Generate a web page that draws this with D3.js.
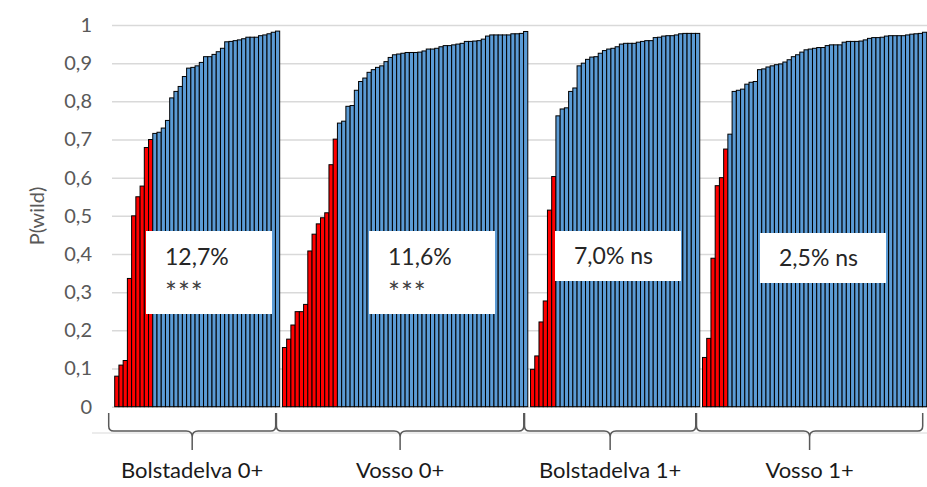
<!DOCTYPE html>
<html>
<head>
<meta charset="utf-8">
<script src="https://cdn.jsdelivr.net/npm/d3@7"></script>
<style>
  html, body { margin: 0; padding: 0; background: #fff; }
  svg { display: block; font-family: Lato, "Open Sans", sans-serif; }
</style>
</head>
<body>
<svg id="chart" width="927" height="487"></svg>
<script>
// Population groups along the category axis
const groupNames = ["Bolstadelva 0+", "Vosso 0+", "Bolstadelva 1+", "Vosso 1+"];

// Sorted P(wild) per individual; red = below-threshold fish, blue = the rest
const redBolstadelva0 = [0.080, 0.109, 0.121, 0.336, 0.500, 0.550, 0.578, 0.679, 0.700];
const blueBolstadelva0 = [0.716, 0.719, 0.730, 0.750, 0.809, 0.826, 0.839, 0.865, 0.887, 0.889,
  0.893, 0.902, 0.917, 0.917, 0.923, 0.930, 0.939, 0.956, 0.957, 0.959, 0.961, 0.964, 0.968,
  0.968, 0.968, 0.972, 0.974, 0.977, 0.981, 0.984];

const redVosso0 = [0.155, 0.177, 0.214, 0.249, 0.249, 0.268, 0.408, 0.452, 0.479, 0.495, 0.508,
  0.634, 0.701];
const blueVosso0 = [0.743, 0.748, 0.787, 0.789, 0.829, 0.852, 0.861, 0.876, 0.883, 0.889, 0.893,
  0.904, 0.915, 0.922, 0.924, 0.926, 0.928, 0.928, 0.928, 0.929, 0.932, 0.937, 0.937, 0.939,
  0.943, 0.946, 0.946, 0.948, 0.950, 0.952, 0.957, 0.957, 0.958, 0.959, 0.963, 0.971, 0.974,
  0.974, 0.974, 0.974, 0.974, 0.977, 0.977, 0.978, 0.983];

const redBolstadelva1 = [0.098, 0.133, 0.222, 0.277, 0.515, 0.603];
const blueBolstadelva1 = [0.762, 0.780, 0.783, 0.826, 0.835, 0.893, 0.900, 0.910, 0.916, 0.917,
  0.926, 0.933, 0.937, 0.939, 0.943, 0.950, 0.952, 0.952, 0.952, 0.955, 0.957, 0.959, 0.959,
  0.967, 0.968, 0.971, 0.972, 0.972, 0.974, 0.977, 0.978, 0.978, 0.978, 0.978];

const redVosso1 = [0.129, 0.179, 0.389, 0.579, 0.600, 0.675];
const blueVosso1 = [0.714, 0.826, 0.829, 0.832, 0.845, 0.850, 0.852, 0.883, 0.885, 0.890, 0.893,
  0.896, 0.898, 0.903, 0.909, 0.917, 0.922, 0.929, 0.935, 0.937, 0.939, 0.941, 0.941, 0.946,
  0.948, 0.948, 0.948, 0.955, 0.957, 0.957, 0.957, 0.958, 0.961, 0.965, 0.967, 0.967, 0.968,
  0.971, 0.972, 0.972, 0.972, 0.972, 0.974, 0.976, 0.977, 0.978, 0.981];

// Annotation text inside each group
const percentLabels = ["12,7%", "11,6%", "7,0% ns", "2,5% ns"];
const signifLabels = ["***", "***", "", ""];

// Y-axis ticks
const yTicks = [0, 0.1, 0.2, 0.3, 0.4, 0.5, 0.6, 0.7, 0.8, 0.9, 1];
const yTitle = "P(wild)";

// ---- layout ----
const W = 927, H = 487;
const plotLeft = 112, plotRight = 927;
const barsLeft = 114.7, barsRight = 926.7;
const yTop = 25, yBottom = 406.7;
const groupGap = 0.65;                // gap between groups, in bar widths
const boxLeft = [146, 369, 555, 760]; // annotation box left edges
const boxWidth = 126;

const redSets = [redBolstadelva0, redVosso0, redBolstadelva1, redVosso1];
const blueSets = [blueBolstadelva0, blueVosso0, blueBolstadelva1, blueVosso1];

// Flatten into one list of bars with a running slot index
const bars = [];
const groupSpans = [];
let slot = 0;
groupNames.forEach((name, g) => {
  const start = slot;
  redSets[g].forEach(v => { bars.push({ g, slot, v, kind: "red" }); slot += 1; });
  blueSets[g].forEach(v => { bars.push({ g, slot, v, kind: "blue" }); slot += 1; });
  groupSpans.push({ name, start, end: slot });
  if (g < groupNames.length - 1) slot += groupGap;
});

const x = d3.scaleLinear().domain([0, slot]).range([barsLeft, barsRight]);
const y = d3.scaleLinear().domain([0, 1]).range([yBottom, yTop]);
const fmt = v => (v === 0 || v === 1) ? String(v) : d3.format(".1f")(v).replace(".", ",");

const svg = d3.select("#chart");

// Gridlines + tick labels
const yAxis = d3.axisLeft(y)
  .tickValues(yTicks)
  .tickFormat(fmt)
  .tickSizeInner(-(plotRight - plotLeft))
  .tickSizeOuter(0)
  .tickPadding(20);

const gy = svg.append("g")
  .attr("transform", `translate(${plotLeft},0)`)
  .call(yAxis);
gy.select(".domain").remove();
gy.selectAll(".tick line").attr("stroke", "#D9D9D9").attr("stroke-width", 1.5);
gy.selectAll(".tick text")
  .attr("fill", "#595959")
  .style("font-size", "20px")
  .style("font-family", "Lato, sans-serif");

// Y title
svg.append("text")
  .attr("transform", `translate(44,216) rotate(-90)`)
  .attr("text-anchor", "middle")
  .attr("fill", "#595959")
  .style("font-size", "20px")
  .text(yTitle);

// Bars
const bw = x(1) - x(0);
svg.append("g")
  .selectAll("rect")
  .data(bars)
  .join("rect")
  .attr("x", d => x(d.slot))
  .attr("y", d => y(d.v))
  .attr("width", bw)
  .attr("height", d => y(0) - y(d.v))
  .attr("fill", d => d.kind === "red" ? "#FF0000" : "#5B9BD5")
  .attr("stroke", "#000")
  .attr("stroke-width", 1);

// Horizontal rule under the bars
svg.append("line")
  .attr("x1", 92).attr("x2", W)
  .attr("y1", 433).attr("y2", 433)
  .attr("stroke", "#D9D9D9").attr("stroke-width", 1.2);

// Curly braces under each group
function bracePath(x0, x1, xc, yt, yh, yb) {
  const r = 5, c = 6;
  return `M${x0},${yt} L${x0},${yh - r} Q${x0},${yh} ${x0 + r},${yh} ` +
    `L${xc - c},${yh} Q${xc},${yh} ${xc},${yh + c} L${xc},${yb} ` +
    `M${xc},${yh + c} Q${xc},${yh} ${xc + c},${yh} ` +
    `L${x1 - r},${yh} Q${x1},${yh} ${x1},${yh - r} L${x1},${yt}`;
}
svg.append("g")
  .selectAll("path")
  .data(groupSpans)
  .join("path")
  .attr("d", d => {
    const x0 = x(d.start) - 6, x1 = x(d.end) - 4;
    const xc = (x0 + x1) / 2;
    return bracePath(x0, x1, xc, 413, 431, 450);
  })
  .attr("fill", "none")
  .attr("stroke", "#595959")
  .attr("stroke-width", 1.5);

// Category labels
svg.append("g")
  .selectAll("text")
  .data(groupSpans)
  .join("text")
  .attr("x", d => (x(d.start) + x(d.end)) / 2 - 5)
  .attr("y", 478)
  .attr("text-anchor", "middle")
  .attr("fill", "#1a1a1a")
  .style("font-size", "22px")
  .text(d => d.name);

// Annotation boxes
const ann = svg.append("g");
groupNames.forEach((name, g) => {
  const twoLine = signifLabels[g] !== "";
  const top = twoLine ? 231 : (g === 3 ? 233 : 231);
  const h = twoLine ? 83 : 50;
  const bx = boxLeft[g];
  ann.append("rect")
    .attr("x", bx).attr("y", top)
    .attr("width", boxWidth).attr("height", h)
    .attr("fill", "#fff");
  ann.append("text")
    .attr("x", bx + 19)
    .attr("y", twoLine ? top + 26 : top + h / 2)
    .attr("dy", "0.35em")
    .attr("fill", "#262626")
    .style("font-size", "23px")
    .text(percentLabels[g]);
  if (twoLine) {
    ann.append("text")
      .attr("x", bx + 19)
      .attr("y", top + 72)
      .attr("fill", "#404040")
      .style("font-size", "28px")
      .style("letter-spacing", "1px")
      .text(signifLabels[g]);
  }
});
</script>
</body>
</html>
